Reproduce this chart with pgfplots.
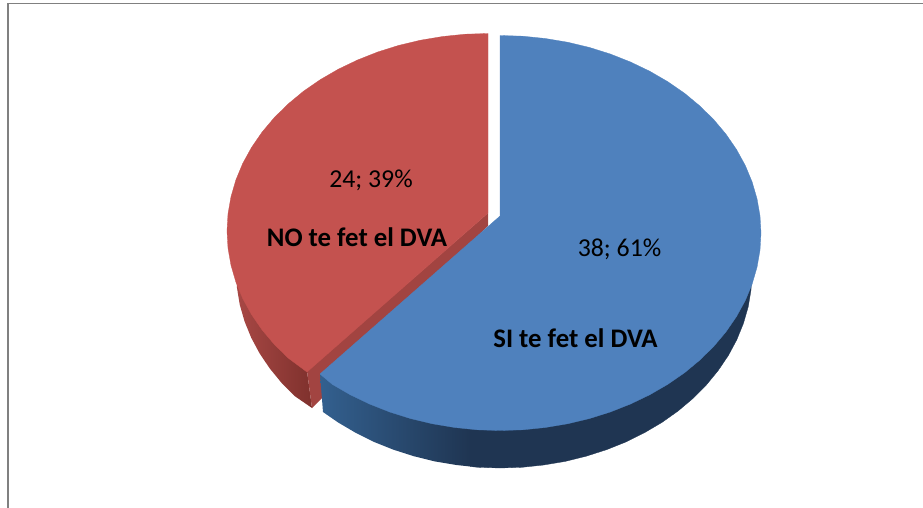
\documentclass[border=0pt]{standalone}
\usepackage{fontspec}
\setmainfont{Carlito}
\usepackage{pgfplots}
\pgfplotsset{compat=1.18}
\definecolor{bface}{HTML}{4F81BD}
\definecolor{rface}{HTML}{C4524F}
\definecolor{rinner}{HTML}{A24441}
\definecolor{rwallL}{HTML}{A84845}
\definecolor{rwallR}{HTML}{7F312D}
\definecolor{bwallL}{HTML}{33608F}
\definecolor{bwallD}{HTML}{1F3552}
\definecolor{frameg}{HTML}{808080}
\begin{document}
\begin{tikzpicture}[x=1pt,y=1pt]
\path[use as bounding box] (0,0) rectangle (923,508);
\begin{axis}[
  at={(0,0)},anchor=south west,
  scale only axis,width=923pt,height=508pt,
  xmin=0,xmax=923,ymin=0,ymax=508,y dir=reverse,
  hide axis,clip=false,no markers]
% frame
\addplot[frameg,line width=1.8pt] coordinates {(7.7,508)(7.7,3.5)(923,3.5)};
% red outer wall
\addplot[draw=none,left color=rwallL,right color=rwallR] coordinates {
(300,250)(236,271)(237,288)(239.8,304.9)(244.6,321.5)(251.2,337.7)(259.6,353.4)(269.8,368.5)(281.6,382.9)(295,396.3)(312,408)(307,371)} -- cycle;
% red inner wall
\addplot[draw=none,fill=rinner] coordinates {
(307,371)(488,213)(488,226)(340,370)(322,398)(312,408)} -- cycle;
% red face
\addplot[draw=rface,line width=0.3pt,fill=rface] coordinates {
(488,213)(307,372)(288.1,358.0)(274.2,344.3)(262.0,329.8)(251.5,314.5)(242.7,298.5)(235.9,282.1)(231.0,265.3)(228.0,248.2)(227,231)(228.0,213.8)(231.0,196.7)(235.9,179.9)(242.7,163.5)(251.5,147.5)(262.0,132.2)(274.2,117.7)(288.1,104.0)(303.4,91.3)(320.2,79.7)(338.3,69.2)(357.5,60.0)(377.7,52.0)(398.7,45.4)(420.5,40.2)(442.7,36.5)(465.2,34.2)(488,33.5)} -- cycle;
% blue wall, dark right part
\addplot[draw=bwallD,line width=0.3pt,fill=bwallD] coordinates {
(600,250)(752,273)(751,290)(748.2,306.9)(743.4,323.5)(736.8,339.7)(728.4,355.4)(718.2,370.5)(706.4,384.9)(693,398.4)(678.2,410.9)(662,422.4)(644.5,432.7)(626,441.9)(606.5,449.7)(586.2,456.2)(565.2,461.4)(543.7,465)(522,467.3)(500,468)(478,467.3)(470,466.5)(470,300)} -- cycle;
% blue wall, shaded left part
\addplot[draw=none,left color=bwallL,right color=bwallD] coordinates {
(470.3,300)(470.3,466.5)(456.3,465)(434.8,461.4)(413.8,456.2)(393.5,449.7)(374,441.9)(355.5,432.7)(338,422.4)(323,412)(320,374)} -- cycle;
% blue face
\addplot[draw=bface,line width=0.3pt,fill=bface] coordinates {
(500,216)(500,35.5)(522.8,36.2)(545.3,38.5)(567.5,42.2)(589.3,47.4)(610.3,54.0)(630.5,62.0)(649.7,71.2)(667.8,81.7)(684.6,93.3)(699.9,106.0)(713.8,119.7)(726.0,134.2)(736.5,149.5)(745.3,165.5)(752.1,181.9)(757.0,198.7)(760.0,215.8)(761,233)(760.0,250.2)(757.0,267.3)(752.1,284.1)(745.3,300.5)(736.5,316.5)(726.0,331.8)(713.8,346.3)(699.9,360.0)(684.6,372.7)(667.8,384.3)(649.7,394.8)(630.5,404.0)(610.3,412.0)(589.3,418.6)(567.5,423.8)(545.3,427.5)(522.8,429.8)(500,430.5)(477.2,429.8)(454.7,427.5)(432.5,423.8)(410.7,418.6)(389.7,412.0)(369.5,404.0)(350.3,394.8)(332.2,384.3)(320,374)} -- cycle;
% labels
\node[font=\fontsize{25.8}{30}\selectfont,text=black,inner sep=0pt] at (axis cs:371,180) {24; 39\%};
\node[font=\fontsize{26.8}{30}\selectfont\bfseries,text=black,inner sep=0pt] at (axis cs:357,237) {NO te fet el DVA};
\node[font=\fontsize{25.8}{30}\selectfont,text=black,inner sep=0pt] at (axis cs:619.5,249) {38; 61\%};
\node[font=\fontsize{26.8}{30}\selectfont\bfseries,text=black,inner sep=0pt] at (axis cs:575.5,338) {SI te fet el DVA};
\end{axis}
\end{tikzpicture}
\end{document}
